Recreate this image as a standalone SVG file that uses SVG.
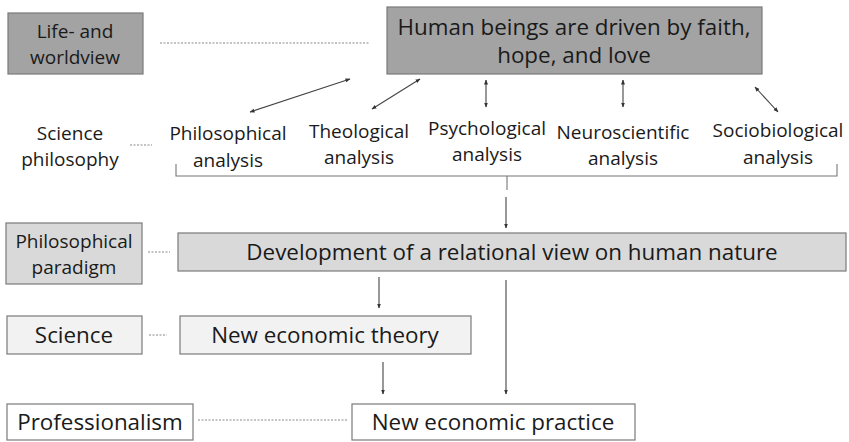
<svg xmlns="http://www.w3.org/2000/svg" width="849" height="442" viewBox="0 0 849 442">
<defs>
<marker id="ah" viewBox="0 0 10 10" refX="9" refY="5" markerWidth="5" markerHeight="5" orient="auto-start-reverse" markerUnits="userSpaceOnUse">
<path d="M0,1 L10,5 L0,9 z" fill="#333"/>
</marker>
<style>
text{font-family:"Open Sans","Liberation Sans",sans-serif;fill:#1a1a1a;text-anchor:middle}
.big{font-size:22.4px}
.sm{font-size:19px}
.box{stroke:#7a7a7a;stroke-width:1.2}
.dark{fill:#a3a3a3}
.mid{fill:#d9d9d9}
.light{fill:#f2f2f2}
.white{fill:#fff}
.dot{stroke:#888;stroke-width:1;stroke-dasharray:2 1.5;fill:none}
.arr{stroke:#444;stroke-width:1.1;fill:none;marker-end:url(#ah)}
.arr2{stroke:#444;stroke-width:1.1;fill:none;marker-end:url(#ah);marker-start:url(#ah)}
.br{stroke:#777;stroke-width:1.1;fill:none}
</style>
</defs>
<rect width="849" height="442" fill="#fff"/>
<g id="life-worldview">
<rect class="box dark" x="8" y="13" width="135" height="61"/>
<text class="sm" x="75" y="38">Life- and</text>
<text class="sm" x="75" y="64">worldview</text>
</g>
<g id="human-beings">
<rect class="box dark" x="387" y="7" width="375" height="67"/>
<text class="big" x="574" y="35">Human beings are driven by faith,</text>
<text class="big" x="574" y="63">hope, and love</text>
</g>
<g id="science-philosophy">
<text class="sm" x="70" y="140">Science</text>
<text class="sm" x="70" y="166">philosophy</text>
</g>
<g id="philosophical-analysis">
<text class="sm" x="228" y="140">Philosophical</text>
<text class="sm" x="228" y="167">analysis</text>
</g>
<g id="theological-analysis">
<text class="sm" x="359" y="138">Theological</text>
<text class="sm" x="359" y="164">analysis</text>
</g>
<g id="psychological-analysis">
<text class="sm" x="487" y="135">Psychological</text>
<text class="sm" x="487" y="161">analysis</text>
</g>
<g id="neuroscientific-analysis">
<text class="sm" x="623" y="139">Neuroscientific</text>
<text class="sm" x="623" y="165">analysis</text>
</g>
<g id="sociobiological-analysis">
<text class="sm" x="778" y="137">Sociobiological</text>
<text class="sm" x="778" y="164">analysis</text>
</g>
<g id="philosophical-paradigm">
<rect class="box mid" x="6" y="223" width="136" height="61"/>
<text class="sm" x="74" y="248">Philosophical</text>
<text class="sm" x="74" y="274">paradigm</text>
</g>
<g id="development">
<rect class="box mid" x="178" y="233" width="668" height="38"/>
<text class="big" x="512" y="260">Development of a relational view on human nature</text>
</g>
<g id="science">
<rect class="box light" x="7" y="316" width="135" height="38"/>
<text class="big" x="74" y="343">Science</text>
</g>
<g id="new-economic-theory">
<rect class="box light" x="180" y="316" width="291" height="38"/>
<text class="big" x="325" y="343">New economic theory</text>
</g>
<g id="professionalism">
<rect class="box white" x="7" y="404" width="186" height="36"/>
<text class="big" x="100" y="430">Professionalism</text>
</g>
<g id="new-economic-practice">
<rect class="box white" x="352" y="404" width="283" height="36"/>
<text class="big" x="493" y="430">New economic practice</text>
</g>
<g id="connectors">
<line class="dot" x1="160" y1="43" x2="370" y2="43"/>
<line class="dot" x1="130" y1="145" x2="152" y2="145"/>
<line class="dot" x1="148" y1="252" x2="170" y2="252"/>
<line class="dot" x1="149" y1="335" x2="167" y2="335"/>
<line class="dot" x1="198" y1="420" x2="347" y2="420"/>
<line class="arr2" x1="350" y1="79" x2="250" y2="112"/>
<line class="arr2" x1="420" y1="79" x2="372" y2="109"/>
<line class="arr2" x1="486" y1="80" x2="486" y2="107"/>
<line class="arr2" x1="623" y1="80" x2="623" y2="107"/>
<line class="arr2" x1="755" y1="87" x2="778" y2="112"/>
<path class="br" d="M176,164 L176,176 L837,176 L837,164 M507,176 L507,190"/>
<line class="arr" x1="506" y1="197" x2="506" y2="228"/>
<line class="arr" x1="379" y1="277" x2="379" y2="308"/>
<line class="arr" x1="383" y1="362" x2="383" y2="394"/>
<line class="arr" x1="506" y1="280" x2="506" y2="394"/>
</g>
</svg>
